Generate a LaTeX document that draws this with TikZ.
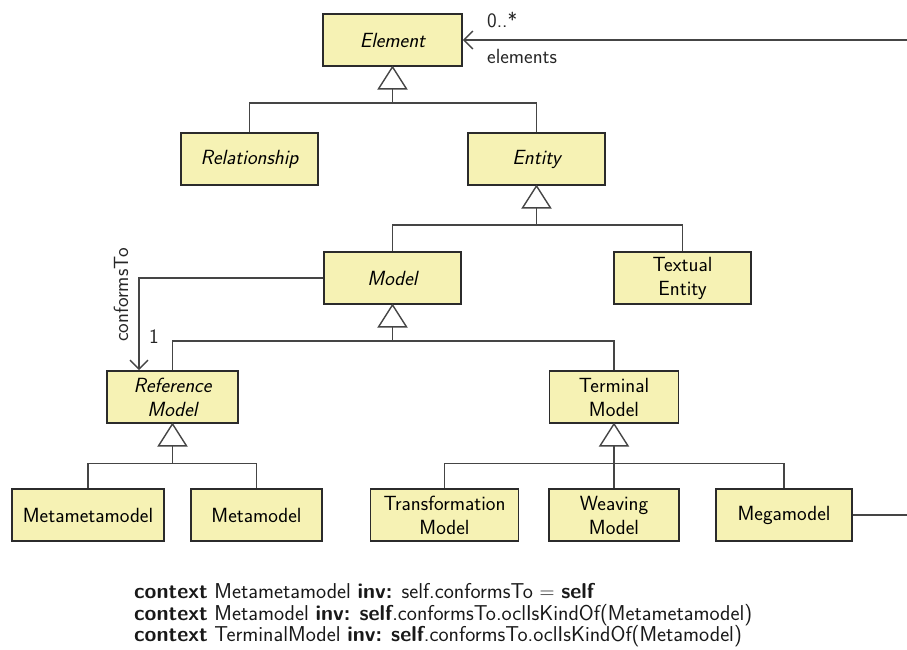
\documentclass[tikz,border=0pt]{standalone}
\usepackage{fontspec}
\usetikzlibrary{arrows.meta}
\definecolor{boxfill}{HTML}{F6F2B4}
\definecolor{boxdraw}{HTML}{2B2B2B}
\definecolor{linecol}{HTML}{454545}
\begin{document}
\begin{tikzpicture}[x=1pt,y=-1pt,
  font=\sffamily\fontsize{20.5}{24}\selectfont,
  cls/.style={draw=boxdraw,fill=boxfill,line width=1.8pt,inner sep=0pt,
    minimum height=52pt,align=center},
  abs/.style={cls,font=\sffamily\itshape\fontsize{20.5}{24}\selectfont},
  conn/.style={draw=linecol,line width=1.4pt},
  gentri/.style={draw=linecol,line width=1.4pt,fill=white,line join=miter},
  assoc/.style={conn,-{Straight Barb[length=9pt,width=18pt,line width=1.4pt]}},
  lbl/.style={inner sep=0pt,text=black!85},
  ocl/.style={inner sep=0pt,text=black!90,font=\sffamily\fontsize{21.5}{24}\selectfont}]
\useasboundingbox (0,0) rectangle (907,650);

% classes
\node[abs,minimum width=139pt] (Element) at (392.5,40) {Element};
\node[abs,minimum width=137pt] (Relationship) at (249.5,159) {Relationship};
\node[abs,minimum width=137pt] (Entity) at (536.5,159) {Entity};
\node[abs,minimum width=137pt] (Model) at (392.5,278) {Model};
\node[cls,minimum width=137pt] (Textual) at (682.5,278) {Textual\\Entity};
\node[abs,minimum width=131pt] (RefModel) at (172.5,397) {Reference\\Model};
\node[cls,minimum width=129pt] (Terminal) at (614,397) {Terminal\\Model};
\node[cls,minimum width=152pt] (MMM) at (88,515) {Metametamodel};
\node[cls,minimum width=131pt] (MM) at (256.5,515) {Metamodel};
\node[cls,minimum width=148pt] (Trans) at (444.5,515) {Transformation\\Model};
\node[cls,minimum width=130pt] (Weaving) at (614,515) {Weaving\\Model};
\node[cls,minimum width=136pt] (Mega) at (784,515) {Megamodel};

% generalization buses
\path (Element.south) ++(0,36) coordinate (b1);
\draw[conn] (Relationship.north) |- (b1) -| (Entity.north);
\draw[conn] (b1) -- (Element.south);
\draw[gentri] (Element.south) -- ++(-14,22) -- ++(28,0) -- cycle;

\path (Entity.south) ++(0,39) coordinate (b2);
\draw[conn] (Model.north) |- (b2) -| (Textual.north);
\draw[conn] (b2) -- (Entity.south);
\draw[gentri] (Entity.south) -- ++(-14,22) -- ++(28,0) -- cycle;

\path (Model.south) ++(0,36) coordinate (b3);
\draw[conn] (RefModel.north) |- (b3) -| (Terminal.north);
\draw[conn] (b3) -- (Model.south);
\draw[gentri] (Model.south) -- ++(-14,22) -- ++(28,0) -- cycle;

\path (RefModel.south) ++(0,39.5) coordinate (b4);
\draw[conn] (MMM.north) |- (b4) -| (MM.north);
\draw[conn] (b4) -- (RefModel.south);
\draw[gentri] (RefModel.south) -- ++(-14,22) -- ++(28,0) -- cycle;

\path (Terminal.south) ++(0,39.5) coordinate (b5);
\draw[conn] (Trans.north) |- (b5) -| (Mega.north);
\draw[conn] (Weaving.north) -- (Terminal.south);
\draw[gentri] (Terminal.south) -- ++(-14,22) -- ++(28,0) -- cycle;

% conformsTo association
\draw[assoc] (Model.west) -| ([xshift=-33.5pt]RefModel.north);
\node[lbl,rotate=90] (conf) at (121,295) {conformsTo};
\node[lbl] (one) at (154,337) {1};

% elements association (Megamodel -> Element)
\coordinate (r1) at (910,515);
\coordinate (r2) at (910,40);
\draw[assoc] (Mega.east) -- (r1) -- (r2) -- (Element.east);
\node[lbl,anchor=west] (mult) at (487,20) {0..*};
\node[lbl,anchor=west] (role) at (487,56) {elements};

% OCL constraints
\node[ocl,anchor=base west] (ocl1) at (134,598) {\textbf{context} Metametamodel \textbf{inv:} self.conformsTo $=$ \textbf{self}};
\node[ocl,anchor=base west] (ocl2) at (134,620) {\textbf{context} Metamodel \textbf{inv:} \textbf{self}.conformsTo.oclIsKindOf(Metametamodel)};
\node[ocl,anchor=base west] (ocl3) at (134,641) {\textbf{context} TerminalModel \textbf{inv:} \textbf{self}.conformsTo.oclIsKindOf(Metamodel)};
\end{tikzpicture}
\end{document}
